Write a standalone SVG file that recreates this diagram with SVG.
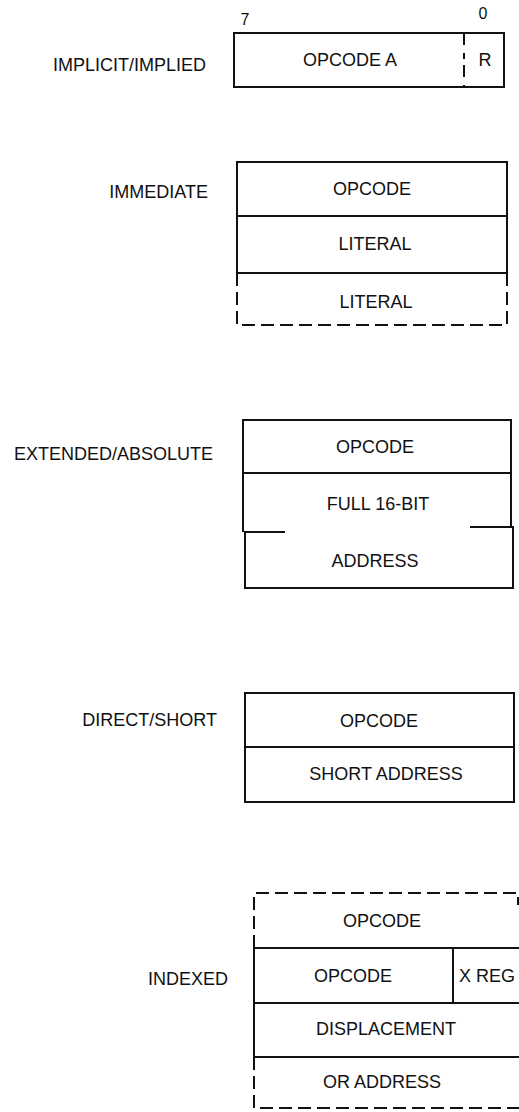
<svg xmlns="http://www.w3.org/2000/svg" width="519" height="1112" viewBox="0 0 519 1112">
<style>
text{font-family:"Liberation Sans",Arial,sans-serif;font-size:18px;fill:#111}
.c{text-anchor:middle}
.l{text-anchor:end}
.s{fill:none;stroke:#111;stroke-width:2}
.d{fill:none;stroke:#111;stroke-width:2;stroke-dasharray:13 6}
.n{font-size:16px}
</style>
<rect width="519" height="1112" fill="#fff"/>
<g id="implicit">
<text class="l" x="206" y="71">IMPLICIT/IMPLIED</text>
<text class="c n" x="245" y="25">7</text>
<text class="c n" x="483" y="19">0</text>
<rect class="s" x="234" y="33" width="270" height="54"/>
<path class="s" d="M464,33 V87" stroke-dasharray="12 8 6 6"/>
<text class="c" x="350" y="66">OPCODE A</text>
<text class="c" x="485" y="66">R</text>
</g>
<g id="immediate">
<text class="l" x="208" y="198">IMMEDIATE</text>
<rect class="s" x="237" y="162" width="270" height="111"/>
<path class="s" d="M237,216 H507"/>
<path class="d" d="M237,273 V325 H507 V273"/>
<text class="c" x="372" y="195">OPCODE</text>
<text class="c" x="375" y="250">LITERAL</text>
<text class="c" x="376" y="308">LITERAL</text>
</g>
<g id="extended">
<text class="l" x="213" y="460">EXTENDED/ABSOLUTE</text>
<path class="s" d="M243,532 V420 H511 V527"/>
<path class="s" d="M243,473 H511"/>
<path class="s" d="M285,532 H245 V588 H513 V527 H470"/>
<text class="c" x="375" y="453">OPCODE</text>
<text class="c" x="378" y="510">FULL 16-BIT</text>
<text class="c" x="375" y="567">ADDRESS</text>
</g>
<g id="direct">
<text class="l" x="217" y="726">DIRECT/SHORT</text>
<rect class="s" x="245" y="693" width="269" height="109"/>
<path class="s" d="M245,747 H514"/>
<text class="c" x="379" y="727">OPCODE</text>
<text class="c" x="386" y="780">SHORT ADDRESS</text>
</g>
<g id="indexed">
<text class="l" x="228" y="985">INDEXED</text>
<path class="d" d="M254,948 V893 H518 V905"/>
<path class="d" d="M254,1057 V1108 H522"/>
<path class="s" d="M522,948 H254 V1057 H522"/>
<path class="s" d="M254,1003 H522 M453,948 V1003"/>
<text class="c" x="382" y="927">OPCODE</text>
<text class="c" x="353" y="982">OPCODE</text>
<text class="c" x="487" y="982">X REG</text>
<text class="c" x="386" y="1035">DISPLACEMENT</text>
<text class="c" x="382" y="1088">OR ADDRESS</text>
</g>
</svg>
